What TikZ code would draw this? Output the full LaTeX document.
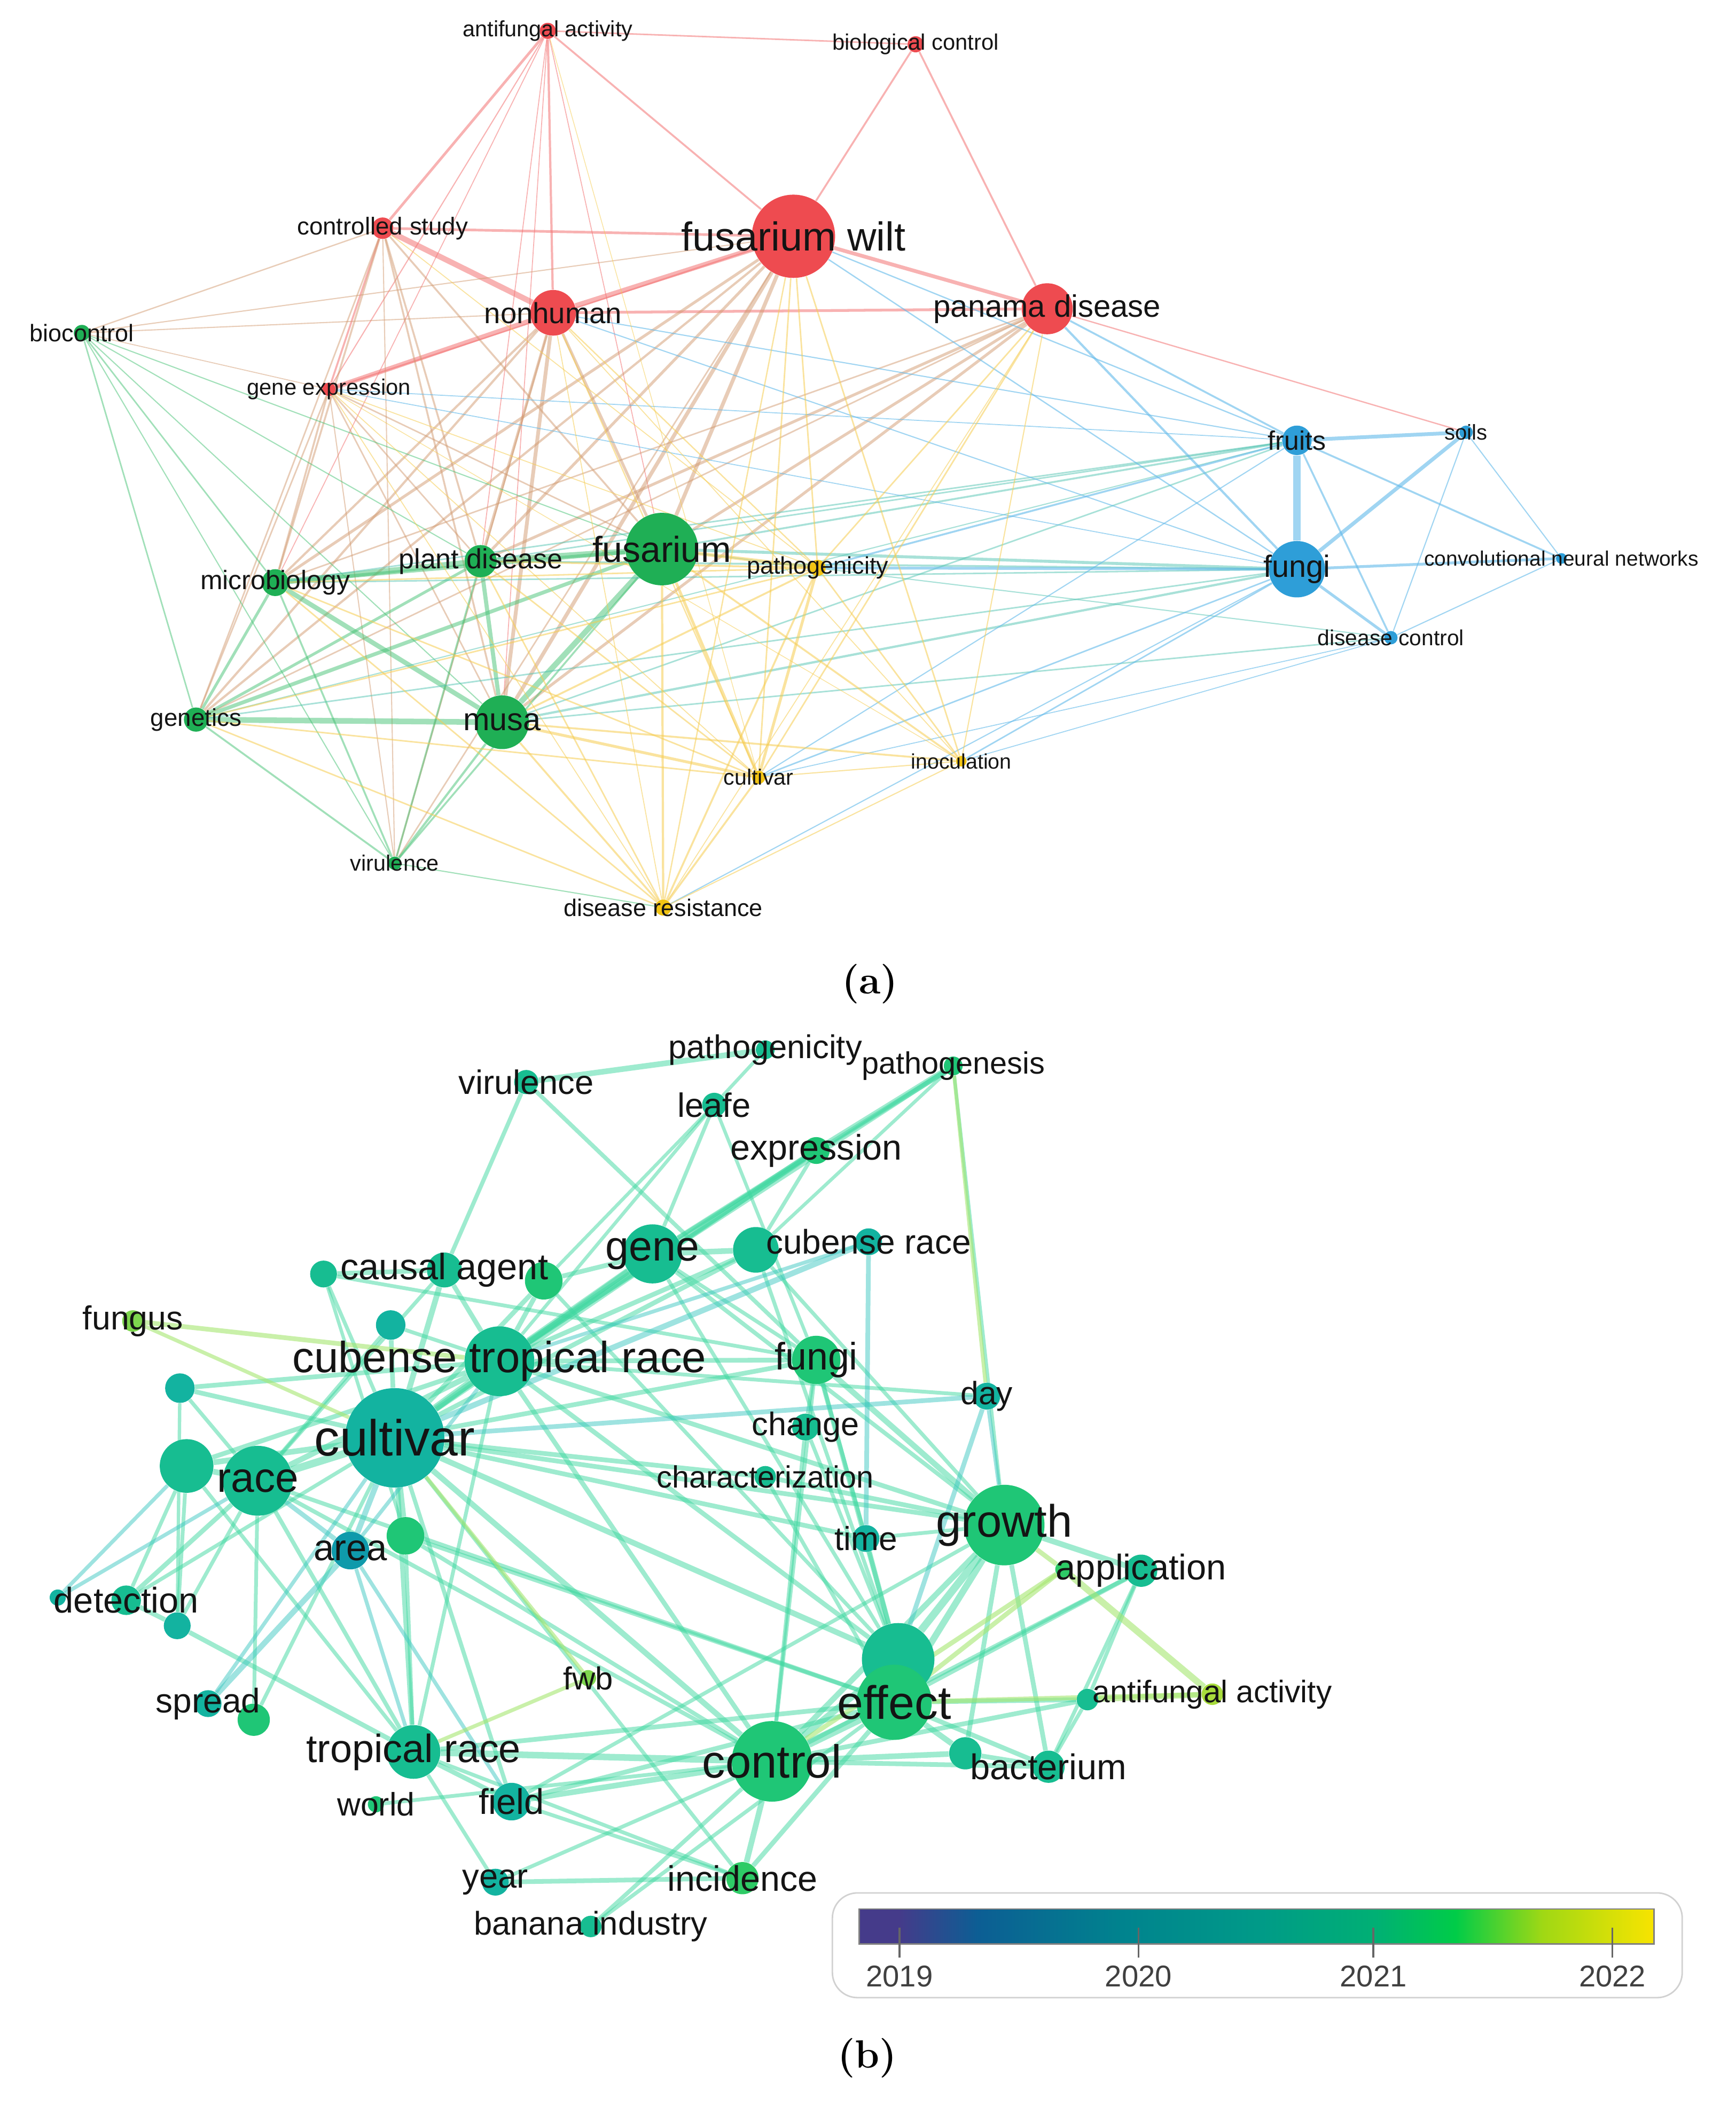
\documentclass[tikz,border=0pt]{standalone}
\usepackage{fontspec}
\newfontfamily\lblfont{Liberation Sans}
\usetikzlibrary{backgrounds}

% cluster colours of map (a)
\definecolor{nred}{HTML}{EE4B50}
\definecolor{ngreen}{HTML}{1FAF55}
\definecolor{nblue}{HTML}{2E9ED8}
\definecolor{nyellow}{HTML}{F2C414}
\definecolor{lred}{HTML}{F47474}
\definecolor{lgreen}{HTML}{45C274}
\definecolor{lblue}{HTML}{62B9EA}
\definecolor{lyellow}{HTML}{F6CC50}
\definecolor{lmix}{HTML}{D29A70}
\definecolor{lteal}{HTML}{52C4B2}
% overlay colours of map (b)
\definecolor{ca}{HTML}{17BD91}
\definecolor{cb}{HTML}{13B3A0}
\definecolor{cc}{HTML}{0F9AAB}
\definecolor{cd}{HTML}{1FC676}
\definecolor{ce}{HTML}{7ED64E}
\definecolor{cf}{HTML}{A8DC3C}
\definecolor{cg}{HTML}{2ECB66}
\definecolor{bl}{HTML}{3ED8A0}
\definecolor{blt}{HTML}{3EC8C2}
\definecolor{bly}{HTML}{A6E670}
\definecolor{labeltext}{HTML}{141414}
% colour bar
\definecolor{vir0}{HTML}{453B8A}
\definecolor{vir1}{HTML}{0C5E94}
\definecolor{vir2}{HTML}{00838E}
\definecolor{vir3}{HTML}{009A88}
\definecolor{vir4}{HTML}{00B074}
\definecolor{vir5}{HTML}{00CC48}
\definecolor{vir6}{HTML}{A0D814}
\definecolor{vir7}{HTML}{F8E400}
\pgfdeclarehorizontalshading{yearbar}{100bp}{color(0bp)=(vir0); color(27.5bp)=(vir0);
  color(32.5bp)=(vir1); color(41.5bp)=(vir2); color(50bp)=(vir3); color(57.5bp)=(vir4);
  color(62.5bp)=(vir5); color(68bp)=(vir6); color(75bp)=(vir7); color(100bp)=(vir7)}

\newcommand\kwfont[1]{\lblfont\fontsize{#1}{#1}\selectfont}

\begin{document}
\begin{tikzpicture}[
    x=0.25135mm, y=-0.25135mm,
    kw/.style={circle, inner sep=0pt, minimum size=#1*0.5027mm},
    kwl/.style={font=\kwfont{#1}, text=labeltext, inner sep=0pt},
    redlink/.style={draw=lred, line width=#1pt, draw opacity=0.55},
    mixlink/.style={draw=lmix, line width=#1pt, draw opacity=0.5},
    greenlink/.style={draw=lgreen, line width=#1pt, draw opacity=0.5},
    teallink/.style={draw=lteal, line width=#1pt, draw opacity=0.5},
    bluelink/.style={draw=lblue, line width=#1pt, draw opacity=0.6},
    yellowlink/.style={draw=lyellow, line width=#1pt, draw opacity=0.55},
    blink/.style={draw=bl, line width=#1pt, draw opacity=0.5},
    btlink/.style={draw=blt, line width=#1pt, draw opacity=0.5},
    bylink/.style={draw=bly, line width=#1pt, draw opacity=0.6},
    caption/.style={font=\fontsize{21}{21}\selectfont\bfseries},
    yearlbl/.style={font=\kwfont{16}, text=black!75},
    tick/.style={draw=black!60, line width=1pt}
]
\useasboundingbox (0,0) rectangle (1293,1568);

% ---------------- (a) co-occurrence map ----------------
\node[kw=6, fill=nred, label={[kwl=11.8]center:antifungal activity}] (afa) at (408,23) {};
\node[kw=6, fill=nred, label={[kwl=11.9]center:biological control}] (abc) at (682,33) {};
\node[kw=31, fill=nred, label={[kwl=21.5]center:fusarium wilt}] (afw) at (591,176) {};
\node[kw=8, fill=nred, label={[kwl=13]center:controlled study}] (acs) at (285,170) {};
\node[kw=17, fill=nred, label={[kwl=15.5]center:nonhuman}] (anh) at (412,233) {};
\node[kw=19, fill=nred, label={[kwl=16.5]center:panama disease}] (apd) at (780,230) {};
\node[kw=6, fill=ngreen, label={[kwl=12.8]center:biocontrol}] (abio) at (61,248) {};
\node[kw=5, fill=nred, label={[kwl=11.9]center:gene expression}] (age) at (245,290) {};
\node[kw=11, fill=nblue, label={[kwl=14.2]center:fruits}] (afr) at (966,328) {};
\node[kw=5, fill=nblue, label={[kwl=11.4]center:soils}] (aso) at (1092,322) {};
\node[kw=21, fill=nblue, label={[kwl=16.4]center:fungi}] (afg) at (966,424) {};
\node[kw=4, fill=nblue, label={[kwl=11.1]center:convolutional neural networks}] (acnn) at (1163,416) {};
\node[kw=5, fill=nblue, label={[kwl=11.6]center:disease control}] (adc) at (1036,475) {};
\node[kw=27, fill=ngreen, label={[kwl=19.3]center:fusarium}] (afu) at (493,409) {};
\node[kw=12, fill=ngreen, label={[kwl=14.8]center:plant disease}] (apl) at (358,418) {};
\node[kw=10, fill=ngreen, label={[kwl=14.2]center:microbiology}] (ami) at (205,434) {};
\node[kw=6, fill=nyellow, label={[kwl=12.8]center:pathogenicity}] (apa) at (609,423) {};
\node[kw=9, fill=ngreen, label={[kwl=13]center:genetics}] (agn) at (146,536) {};
\node[kw=20, fill=ngreen, label={[kwl=16.9]center:musa}] (amu) at (374,538) {};
\node[kw=5, fill=nyellow, label={[kwl=11.7]center:cultivar}] (acu) at (565,579) {};
\node[kw=4, fill=nyellow, label={[kwl=11.2]center:inoculation}] (ain) at (716,567) {};
\node[kw=5, fill=ngreen, label={[kwl=11.8]center:virulence}] (avi) at (294,643) {};
\node[kw=6, fill=nyellow, label={[kwl=12.8]center:disease resistance}] (adr) at (494,676) {};

\node[caption] (capa) at (648,733) {(a)};

% ---------------- (b) overlay map ----------------
% unlabelled nodes first, so that labels sit on top
\node[kw=10, fill=ca] (bca1) at (241,949) {};
\node[kw=14, fill=cd] (bca2) at (405,954) {};
\node[kw=17, fill=ca] (bcr1) at (563,931) {};
\node[kw=11, fill=cb] (bn1) at (291,987) {};
\node[kw=11, fill=cb] (bn2) at (134,1034) {};
\node[kw=20, fill=ca] (bn3) at (139,1092) {};
\node[kw=14, fill=cd] (bn4) at (302,1144) {};
\node[kw=10, fill=cb] (bn5) at (132,1211) {};
\node[kw=12, fill=cd] (bn6) at (189,1281) {};
\node[kw=6, fill=cb] (bde2) at (43,1190) {};
\node[kw=27, fill=ca] (bef1) at (669,1236) {};
\node[kw=12, fill=ca] (bn7) at (719,1306) {};
\node[kw=8, fill=ca] (baf1) at (810,1266) {};
\node[kw=6, fill=cg] (bap2) at (792,1169) {};

\node[kw=7, fill=ca, label={[kwl=17.5]center:pathogenicity}] (bpg) at (570,782) {};
\node[kw=7, fill=cd, label={[kwl=16.4]center:pathogenesis}] (bpn) at (710,794) {};
\node[kw=9, fill=ca, label={[kwl=18]center:virulence}] (bvi) at (392,806) {};
\node[kw=9, fill=ca, label={[kwl=18]center:leafe}] (ble) at (532,823) {};
\node[kw=10, fill=cd, label={[kwl=18.9]center:expression}] (bex) at (608,857) {};
\node[kw=13, fill=ca, label={[kwl=19.5]center:causal agent}] (bca) at (331,946) {};
\node[kw=22, fill=ca, label={[kwl=22.4]center:gene}] (bgn) at (486,934) {};
\node[kw=10, fill=cb, label={[kwl=18.2]center:cubense race}] (bcr) at (647,925) {};
\node[kw=8, fill=ce, label={[kwl=17.8]center:fungus}] (bfu) at (99,984) {};
\node[kw=26, fill=ca, label={[kwl=23.2]center:cubense tropical race}] (bctr) at (372,1014) {};
\node[kw=18, fill=cd, label={[kwl=20.4]center:fungi}] (bfg) at (608,1013) {};
\node[kw=37, fill=cb, label={[kwl=27]center:cultivar}] (bcv) at (294,1071) {};
\node[kw=26, fill=ca, label={[kwl=22.3]center:race}] (bra) at (192,1103) {};
\node[kw=10, fill=ca, label={[kwl=17.4]center:change}] (bch) at (600,1063) {};
\node[kw=8, fill=ca, label={[kwl=16.4]center:characterization}] (bcz) at (570,1100) {};
\node[kw=10, fill=cb, label={[kwl=17.2]center:day}] (bda) at (735,1040) {};
\node[kw=10, fill=cb, label={[kwl=17.7]center:time}] (bti) at (645,1146) {};
\node[kw=30, fill=cd, label={[kwl=24.2]center:growth}] (bgr) at (748,1136) {};
\node[kw=12, fill=ca, label={[kwl=19]center:application}] (bap) at (850,1170) {};
\node[kw=14, fill=cc, label={[kwl=19.6]center:area}] (bar) at (261,1155) {};
\node[kw=11, fill=ca, label={[kwl=19]center:detection}] (bde) at (94,1192) {};
\node[kw=10, fill=cb, label={[kwl=18.2]center:spread}] (bsp) at (155,1269) {};
\node[kw=6, fill=ce, label={[kwl=17]center:fwb}] (bfwb) at (438,1250) {};
\node[kw=20, fill=ca, label={[kwl=21]center:tropical race}] (btr) at (308,1305) {};
\node[kw=6, fill=cd, label={[kwl=17.3]center:world}] (bwo) at (280,1344) {};
\node[kw=14, fill=cb, label={[kwl=19]center:field}] (bfi) at (381,1342) {};
\node[kw=10, fill=cb, label={[kwl=18]center:year}] (bye) at (369,1402) {};
\node[kw=12, fill=cg, label={[kwl=18.9]center:incidence}] (bin) at (553,1399) {};
\node[kw=8, fill=ca, label={[kwl=17.5]center:banana industry}] (bbi) at (440,1435) {};
\node[kw=30, fill=cd, label={[kwl=24.7]center:control}] (bco) at (575,1312) {};
\node[kw=28, fill=cd, label={[kwl=25]center:effect}] (bef) at (666,1268) {};
\node[kw=12, fill=ca, label={[kwl=19]center:bacterium}] (bba) at (781,1316) {};
\node[kw=8, fill=cf, label={[kwl=16.6]center:antifungal activity}] (baf) at (903,1262) {};

\node[caption] (capb) at (646,1533) {(b)};

% colour bar (average publication year)
\draw[draw=black!18, line width=0.8pt, rounded corners=4.7mm] (620,1410) rectangle (1253,1488);
\shadedraw[shading=yearbar, draw=black!50, line width=0.8pt] (640,1422) rectangle (1232,1448);
\foreach \x/\yr in {670/2019, 848/2020, 1023/2021, 1201/2022} {
  \draw[tick] (\x,1436) -- (\x,1458);
  \node[yearlbl] (y\yr) at (\x,1472) {\yr};
}

% ---------------- links ----------------
\begin{pgfonlayer}{background}
\fill[white] (0,0) rectangle (1293,1568);

% (a) red cluster
\foreach \a/\b/\w in {afa/abc/0.8, afa/afw/1, afa/acs/1.4, afa/anh/1.2, afa/age/0.6,
    afa/apl/0.5, afa/afu/0.5, afa/amu/0.5, afa/ami/0.5,
    abc/afw/1, abc/apd/1, afw/acs/1.4, afw/anh/2.6, afw/apd/2, afw/age/0.8,
    acs/anh/3, acs/age/1, anh/apd/1.5, anh/age/2.5, apd/aso/0.7}
  \draw[redlink=\w] (\a) -- (\b);
% (a) links between red and green
\foreach \a/\b/\w in {afw/afu/2, afw/amu/2, afw/apl/1.5, afw/ami/1.5, afw/agn/1.2,
    afw/avi/0.8, afw/abio/0.6, anh/afu/1.5, anh/amu/2, anh/apl/1.5, anh/ami/1.2,
    anh/agn/1.2, anh/avi/0.8, anh/abio/0.6, acs/ami/1, acs/apl/1, acs/amu/1,
    acs/afu/1, acs/agn/0.8, acs/avi/0.6, acs/abio/0.7, apd/afu/1.5, apd/amu/1.5,
    apd/apl/1.5, apd/ami/0.8, apd/agn/0.8, age/ami/1, age/agn/0.8, age/amu/0.8,
    age/apl/0.8, age/afu/0.8, age/avi/0.6, age/abio/0.5}
  \draw[mixlink=\w] (\a) -- (\b);
% (a) green cluster
\foreach \a/\b/\w in {abio/ami/0.8, abio/agn/0.8, abio/avi/0.6, abio/amu/0.6,
    abio/apl/0.6, abio/afu/0.6, ami/apl/3, ami/afu/2, ami/agn/1.5, ami/amu/2.5,
    ami/avi/1, apl/afu/3, apl/amu/2.2, apl/agn/1.5, apl/avi/1, afu/amu/3,
    afu/agn/2, afu/avi/1, agn/amu/3, agn/avi/1, amu/avi/1.2, avi/adr/0.6}
  \draw[greenlink=\w] (\a) -- (\b);
% (a) links between green and blue
\foreach \a/\b/\w in {afu/afr/1, afu/afg/1.6, apl/afr/0.8, apl/afg/1, amu/afg/1.2,
    amu/afr/0.8, ami/afr/0.8, ami/afg/0.8, agn/afg/0.8, agn/afr/0.6, amu/adc/0.8,
    afu/adc/0.6}
  \draw[teallink=\w] (\a) -- (\b);
% (a) blue cluster
\foreach \a/\b/\w in {afr/afg/4, afr/aso/2, afr/adc/1, afr/acnn/1, afg/aso/2,
    afg/acnn/1.5, afg/adc/1.5, aso/acnn/0.6, aso/adc/0.6, acnn/adc/0.6,
    afg/apa/1.5, afr/apa/1, afg/acu/0.8, afg/ain/0.8, afr/acu/0.6, afg/adr/0.6,
    adc/acu/0.5, adc/ain/0.5, apd/afr/1, apd/afg/1.2, anh/afr/0.6, anh/afg/0.6,
    afw/afr/0.7, afw/afg/0.7, age/afr/0.5, age/afg/0.5}
  \draw[bluelink=\w] (\a) -- (\b);
% (a) yellow cluster
\foreach \a/\b/\w in {apa/acu/1.5, apa/ain/0.8, apa/adr/1, acu/adr/1, acu/ain/0.6,
    ain/adr/0.6, afw/ain/0.8, afw/adr/0.7, afw/acu/0.8, afw/apa/0.8, anh/apa/0.7,
    anh/acu/0.7, anh/ain/0.5, anh/adr/0.5, apd/apa/0.8, apd/acu/0.8, apd/ain/0.6,
    apd/adr/0.5, age/apa/0.5, age/acu/0.5, age/adr/0.5, age/ain/0.4, afa/acu/0.4,
    acs/apa/0.5, ami/adr/0.8, ami/acu/0.8, ami/apa/0.8, apl/adr/0.8, apl/acu/0.8,
    apl/apa/1, afu/apa/1.8, afu/acu/1.5, afu/adr/1.2, afu/ain/1, agn/adr/0.8,
    agn/acu/0.8, agn/apa/0.8, amu/adr/1, amu/acu/1.5, amu/ain/1, amu/apa/1}
  \draw[yellowlink=\w] (\a) -- (\b);

% (b) links
\foreach \a/\b/\w in {bvi/bpg/3, bvi/bca/2.2, bvi/bfg/2.2, bpg/ble/1.8,
    ble/bgn/2, ble/bca2/1.8, ble/bfg/1.8, ble/bctr/1.8,
    bex/bpn/3.5, bex/bgn/2.5, bex/bctr/3.5, bex/bcr1/2, bex/bcv/2.5,
    bpn/bgn/2, bpn/bctr/2.5, bpn/bgr/1.8, bpn/bcr1/1.8,
    bgn/bcr1/3, bgn/bctr/3.5, bgn/bcv/3, bgn/bca2/2.5, bgn/bfg/2, bgn/bgr/2.2, bgn/bef1/2,
    bcr1/bctr/2.5, bcr1/bcv/2.5, bcr1/bgr/2, bcr1/bef1/2,
    bca1/bca/2.5, bca1/bcv/2, bca1/bfg/2, bca1/bn4/1.8,
    bca/bctr/2.5, bca/bcv/3, bca/bra/2, bca2/bctr/2.5, bca2/bcv/2.5, bca2/bef1/2,
    bn1/bcv/2.5, bn1/bctr/2, bn1/bra/2,
    bctr/bcv/4, bctr/bra/3, bctr/bn3/2.5, bctr/bfg/2.5, bctr/bgr/2.5, bctr/bef1/2.5,
    bctr/bco/2.5, bctr/btr/2, bctr/bn2/2.5, bctr/bda/2,
    bfg/bch/2, bfg/bti/2, bfg/bgr/3, bfg/bef1/2.5, bfg/bcv/2.5, bfg/bco/2,
    bn2/bcv/2.5, bn2/bra/2, bn2/bn5/1.8,
    bcv/bra/4, bcv/bn3/3, bcv/bn4/3, bcv/bcz/2.5, bcv/bef1/3, bcv/bco/3, bcv/btr/2.5,
    bcv/bfi/2.2, bcv/bgr/2.5, bcv/bde/2, bcv/bn6/2, bcv/bin/2, bcv/bti/2.5,
    bra/bn3/3, bra/bde/2.5, bra/bn5/2, bra/btr/2.2, bra/bco/2.2, bra/bef/2.2, bra/bn6/2,
    bn3/bde/2, bn3/btr/2, bn3/bn5/2, bch/bco/2, bch/bef1/2, bcz/bgr/2.5, bcz/bef/2,
    bti/bef1/2.5, bti/bgr/2,
    bgr/bef1/4, bgr/bef/3.5, bgr/bco/3, bgr/bap/3, bgr/bn7/2.5, bgr/bba/2.5,
    bap/bco/2.2, bap/bef/2.5, bap/bba/2, bn4/bco/2.2, bn4/bef/2.2, bn4/btr/2,
    bde/bn5/2.5, bn5/btr/2.5,
    btr/bfi/2.5, btr/bco/3.5, btr/bye/2, btr/bin/2, btr/bef/2.5, bwo/bco/2,
    bfi/bco/3, bfi/bef/2.5, bfi/bin/2, bfi/bgr/2, bye/bin/2.5, bye/bco/2,
    bbi/bco/2.2, bbi/bef/2, bin/bco/3, bin/bef/2.5,
    bco/bef/4.5, bco/bef1/3.5, bco/bn7/3, bco/bba/2.5, bco/baf1/2.5,
    bef/bn7/3, bef/bba/2.5, bef/baf1/2.5, bn7/bba/2.5, bba/baf1/2, baf1/bap/2}
  \draw[blink=\w] (\a) -- (\b);
\foreach \a/\b/\w in {bcr/bti/2.5, bcr/bcv/3, bcr/bctr/2, bar/bcv/3, bar/bra/2.5,
    bar/bsp/3, bar/btr/2, bar/bfi/2, bctr/bar/2, bda/bcv/2.5, bda/bef1/2.5,
    bda/bgr/2, bde2/bra/2, bde2/bn3/2, bsp/bcv/2}
  \draw[btlink=\w] (\a) -- (\b);
\foreach \a/\b/\w in {bfu/bctr/2.5, bfu/bcv/2, bap2/baf/3.5, bap2/bco/2.5,
    bap2/bef/2.5, bgr/bap2/2.5, bef/baf/2.5, baf1/baf/3, btr/bfwb/2, bcv/bfwb/2,
    bpn/bda/2}
  \draw[bylink=\w] (\a) -- (\b);
\end{pgfonlayer}
\end{tikzpicture}
\end{document}
